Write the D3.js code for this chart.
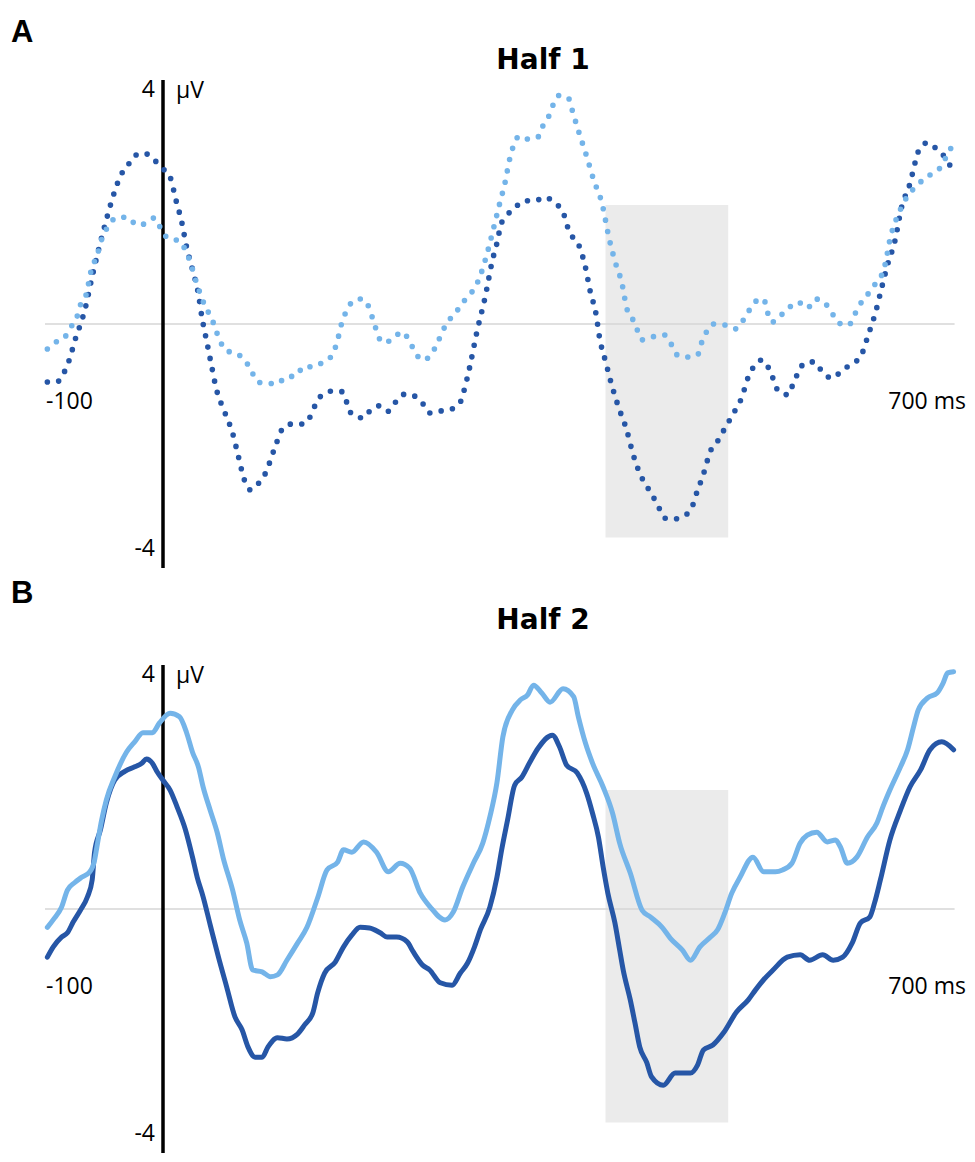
<!DOCTYPE html>
<html>
<head>
<meta charset="utf-8">
<script src="https://cdn.jsdelivr.net/npm/d3@7"></script>
<style>
  body { margin: 0; background: #fff; }
  .lbl { font-family: "Open Sans", "Noto Sans", sans-serif; font-size: 23px; fill: #000; }
  .title { font-family: "DejaVu Sans", sans-serif; font-weight: bold; font-size: 28px; fill: #000; }
  .letter { font-family: "Liberation Sans", Arial, sans-serif; font-weight: bold; font-size: 31px; fill: #000; }
</style>
</head>
<body>
<div id="chart"></div>
<script>
// ---------------- data (time in ms, amplitude in µV) ----------------
const panelLetters = ["A", "B"];
const panelTitles = ["Half 1", "Half 2"];
const xTickLabels = ["-100", "700 ms"];
const yTickLabels = ["4", "-4"];
const yUnit = "μV";
const timeDomain = [-100, 670];
const voltDomain = [-4, 4];
const windowTime = [375, 479];
const windowVolt = [1.95, -3.5];

const half1Dark = [[-98,-0.95],[-90,-0.95],[-84,-0.80],[-80,-0.62],[-74,-0.23],[-68,0.11],[-66,0.25],[-60,0.78],[-51,1.49],[-46,1.85],[-40,2.23],[-36,2.43],[-30,2.59],[-25,2.75],[-16,2.80],[-8,2.70],[-1,2.56],[6,2.41],[11,2.03],[16,1.66],[20,1.26],[25,0.89],[30,0.49],[33,0.11],[37,-0.28],[41,-0.67],[45,-1.05],[52,-1.43],[59,-1.79],[64,-2.18],[69,-2.56],[74,-2.72],[81,-2.61],[87,-2.44],[94,-2.07],[102,-1.70],[109,-1.64],[119,-1.64],[125,-1.51],[129,-1.33],[135,-1.16],[144,-1.10],[152,-1.11],[156,-1.30],[160,-1.48],[170,-1.54],[176,-1.41],[184,-1.34],[191,-1.43],[198,-1.26],[205,-1.15],[213,-1.18],[220,-1.30],[226,-1.46],[234,-1.43],[245,-1.39],[252,-1.28],[255,-1.10],[260,-0.70],[266,-0.13],[273,0.44],[279,1.03],[284,1.41],[286,1.61],[291,1.77],[298,1.90],[306,2.02],[315,2.02],[324,2.08],[332,1.98],[339,1.84],[342,1.64],[346,1.46],[352,1.31],[358,0.93],[362,0.54],[367,0.16],[370,-0.23],[375,-0.61],[380,-0.98],[386,-1.36],[393,-1.74],[398,-2.11],[405,-2.49],[410,-2.66],[415,-2.82],[420,-3.00],[425,-3.18],[432,-3.20],[441,-3.15],[448,-3.02],[451,-2.84],[458,-2.46],[464,-2.08],[470,-1.92],[475,-1.75],[485,-1.41],[490,-1.23],[496,-0.87],[501,-0.69],[508,-0.59],[514,-0.75],[522,-1.11],[530,-1.16],[534,-0.98],[544,-0.64],[552,-0.62],[559,-0.79],[567,-0.89],[575,-0.77],[583,-0.66],[591,-0.54],[598,-0.16],[604,0.20],[609,0.59],[614,0.97],[620,1.34],[626,1.92],[633,2.30],[638,2.69],[641,2.87],[648,2.97],[657,2.84],[664,2.70],[669,2.52]];

const half1Light = [[-98,-0.41],[-92,-0.31],[-83,-0.21],[-78,-0.05],[-73,0.11],[-70,0.31],[-65,0.49],[-61,0.87],[-56,1.12],[-51,1.44],[-46,1.61],[-40,1.74],[-30,1.75],[-22,1.62],[-16,1.64],[-7,1.74],[-2,1.57],[4,1.41],[14,1.36],[19,1.21],[23,1.02],[29,0.64],[36,0.28],[41,0.10],[48,-0.26],[53,-0.43],[63,-0.49],[70,-0.61],[75,-0.77],[80,-0.95],[88,-0.97],[97,-0.98],[104,-0.87],[113,-0.85],[119,-0.70],[127,-0.70],[136,-0.62],[143,-0.52],[147,-0.33],[152,0.05],[156,0.23],[162,0.39],[169,0.41],[175,0.25],[178,0.07],[186,-0.30],[195,-0.25],[202,-0.13],[209,-0.28],[213,-0.44],[220,-0.59],[227,-0.51],[232,-0.33],[241,0.03],[248,0.18],[253,0.33],[259,0.46],[265,0.62],[269,0.80],[275,1.18],[280,1.56],[285,1.95],[290,2.33],[294,2.72],[297,2.92],[302,3.08],[310,3.03],[318,3.07],[322,3.25],[327,3.41],[331,3.61],[336,3.75],[344,3.69],[347,3.49],[353,3.11],[359,2.75],[365,2.36],[372,1.98],[378,1.41],[383,1.03],[389,0.66],[393,0.26],[398,0.08],[402,-0.10],[406,-0.26],[415,-0.21],[425,-0.18],[431,-0.34],[436,-0.51],[444,-0.54],[453,-0.51],[456,-0.33],[460,-0.15],[466,0.00],[477,-0.02],[485,-0.08],[492,0.07],[497,0.23],[503,0.38],[509,0.41],[512,0.21],[516,0.03],[523,0.13],[530,0.26],[538,0.36],[546,0.26],[553,0.41],[561,0.34],[567,0.18],[572,0.02],[581,-0.02],[586,0.15],[591,0.33],[597,0.48],[603,0.64],[609,0.80],[612,0.98],[616,1.38],[622,1.75],[626,1.92],[631,2.10],[638,2.25],[645,2.38],[653,2.48],[659,2.57],[664,2.75],[669,2.93]];

const half2Dark = [[-98,-0.79],[-93,-0.62],[-86,-0.46],[-81,-0.39],[-76,-0.21],[-70,-0.02],[-64,0.20],[-60,0.48],[-58,0.93],[-53,1.30],[-48,1.74],[-41,2.11],[-32,2.26],[-24,2.33],[-18,2.39],[-14,2.46],[-9,2.39],[-5,2.25],[0,2.11],[6,1.95],[12,1.67],[19,1.30],[25,0.85],[29,0.52],[34,0.20],[40,-0.26],[47,-0.79],[54,-1.28],[61,-1.77],[67,-1.98],[72,-2.26],[78,-2.43],[84,-2.43],[89,-2.26],[97,-2.11],[105,-2.13],[114,-2.05],[120,-1.90],[127,-1.70],[131,-1.38],[137,-1.05],[146,-0.87],[153,-0.62],[160,-0.43],[167,-0.30],[175,-0.31],[184,-0.39],[190,-0.46],[198,-0.46],[207,-0.54],[212,-0.70],[220,-0.92],[226,-1.00],[235,-1.21],[245,-1.25],[252,-1.05],[258,-0.89],[264,-0.62],[269,-0.34],[277,0.03],[283,0.52],[287,0.97],[292,1.46],[298,2.03],[304,2.16],[311,2.41],[318,2.64],[330,2.85],[336,2.66],[342,2.36],[351,2.23],[359,1.90],[364,1.57],[369,1.18],[373,0.69],[377,0.26],[383,-0.23],[387,-0.67],[390,-1.00],[396,-1.49],[400,-1.87],[404,-2.26],[410,-2.52],[414,-2.75],[424,-2.89],[434,-2.69],[447,-2.69],[453,-2.56],[458,-2.31],[466,-2.23],[475,-2.03],[486,-1.69],[496,-1.49],[502,-1.33],[509,-1.16],[517,-1.00],[529,-0.79],[540,-0.75],[548,-0.84],[559,-0.75],[568,-0.84],[576,-0.79],[584,-0.56],[591,-0.23],[599,-0.13],[603,0.10],[608,0.48],[616,1.13],[625,1.62],[633,2.00],[642,2.28],[650,2.61],[660,2.74],[670,2.61]];

const half2Light = [[-98,-0.30],[-92,-0.15],[-86,0.03],[-81,0.31],[-75,0.43],[-69,0.52],[-62,0.61],[-58,0.80],[-56,1.02],[-52,1.46],[-48,1.79],[-41,2.16],[-31,2.57],[-24,2.74],[-17,2.89],[-9,2.89],[-3,3.05],[6,3.21],[14,3.15],[20,2.89],[25,2.57],[30,2.33],[34,2.00],[40,1.62],[46,1.25],[51,0.84],[59,0.31],[65,-0.18],[71,-0.56],[76,-1.00],[84,-1.03],[91,-1.11],[97,-1.08],[105,-0.84],[114,-0.56],[122,-0.30],[131,0.18],[139,0.64],[148,0.77],[153,0.97],[160,0.93],[170,1.10],[181,0.93],[191,0.61],[201,0.75],[209,0.67],[218,0.26],[227,0.02],[239,-0.18],[246,-0.05],[254,0.36],[263,0.75],[271,1.08],[277,1.51],[283,2.07],[288,2.82],[296,3.26],[303,3.43],[309,3.51],[314,3.67],[321,3.54],[328,3.39],[339,3.61],[348,3.48],[352,3.15],[358,2.72],[364,2.39],[373,2.00],[381,1.57],[387,1.08],[396,0.59],[406,-0.02],[413,-0.13],[423,-0.30],[430,-0.48],[440,-0.67],[447,-0.84],[455,-0.62],[464,-0.46],[470,-0.34],[476,-0.07],[482,0.26],[489,0.52],[500,0.85],[509,0.61],[519,0.61],[525,0.64],[533,0.75],[540,1.08],[546,1.21],[554,1.26],[563,1.10],[570,1.13],[574,1.02],[580,0.75],[588,0.85],[597,1.18],[605,1.41],[610,1.67],[616,1.95],[625,2.33],[631,2.61],[636,2.98],[640,3.26],[648,3.46],[656,3.54],[661,3.70],[665,3.87],[670,3.89]];

// ---------------- layout ----------------
const width = 975, height = 1162;
const darkColor = "#2656a6";
const lightColor = "#74b4e9";

const panels = [
  { letter: panelLetters[0], title: panelTitles[0], dark: half1Dark, light: half1Light,
    dotted: true, top: 80, bottom: 568, letterY: 42, titleY: 69 },
  { letter: panelLetters[1], title: panelTitles[1], dark: half2Dark, light: half2Light,
    dotted: false, top: 665, bottom: 1153, letterY: 603, titleY: 629 }
];

const svg = d3.select("#chart").append("svg")
  .attr("width", width)
  .attr("height", height);

const x = d3.scaleLinear().domain(timeDomain).range([45, 953.6]);

panels.forEach(p => {
  const g = svg.append("g");
  const y = d3.scaleLinear().domain(voltDomain).range([p.bottom, p.top]);

  //----------------------------------------
  // panel letter and title
  //----------------------------------------
  g.append("text").attr("class", "letter")
    .attr("x", 11).attr("y", p.letterY).text(p.letter);
  g.append("text").attr("class", "title")
    .attr("x", 543).attr("y", p.titleY)
    .attr("text-anchor", "middle").text(p.title);

  //----------------------------------------
  // shaded analysis window
  //----------------------------------------
  g.append("rect")
    .attr("x", x(windowTime[0]))
    .attr("y", y(windowVolt[0]))
    .attr("width", x(windowTime[1]) - x(windowTime[0]))
    .attr("height", y(windowVolt[1]) - y(windowVolt[0]))
    .attr("fill", "#ebebeb");

  // zero line
  g.append("line")
    .attr("x1", x(timeDomain[0])).attr("x2", x(timeDomain[1]) + 1)
    .attr("y1", y(0)).attr("y2", y(0))
    .attr("stroke", "#d6d6d6").attr("stroke-width", 1.5);

  // vertical axis at 0 ms
  g.append("line")
    .attr("x1", x(0)).attr("x2", x(0))
    .attr("y1", y(voltDomain[1])).attr("y2", y(voltDomain[0]))
    .attr("stroke", "#000").attr("stroke-width", 3.5);

  //----------------------------------------
  // waveforms
  //----------------------------------------
  const line = d3.line()
    .x(d => x(d[0]))
    .y(d => y(d[1]))
    .curve(d3.curveMonotoneX);

  [[p.dark, darkColor], [p.light, lightColor]].forEach(([data, color]) => {
    const path = g.append("path")
      .datum(data)
      .attr("d", line)
      .attr("fill", "none")
      .attr("stroke", color)
      .attr("stroke-linejoin", "round")
      .attr("stroke-linecap", "round");
    if (p.dotted) {
      path.attr("stroke-width", 5.6).attr("stroke-dasharray", "0 11.5");
    } else {
      path.attr("stroke-width", 5);
    }
  });

  //----------------------------------------
  // labels
  //----------------------------------------
  g.append("text").attr("class", "lbl")
    .attr("x", x(0) - 8).attr("y", y(voltDomain[1]) + 17)
    .attr("text-anchor", "end").text(yTickLabels[0]);
  g.append("text").attr("class", "lbl")
    .attr("x", x(0) + 13).attr("y", y(voltDomain[1]) + 18)
    .text(yUnit);
  g.append("text").attr("class", "lbl")
    .attr("x", x(0) - 8).attr("y", y(voltDomain[0]) - 12)
    .attr("text-anchor", "end").text(yTickLabels[1]);
  g.append("text").attr("class", "lbl")
    .attr("x", x(timeDomain[0]) + 1).attr("y", y(0) + 85)
    .text(xTickLabels[0]);
  g.append("text").attr("class", "lbl")
    .attr("x", width - 9).attr("y", y(0) + 85)
    .attr("text-anchor", "end").text(xTickLabels[1]);
});
</script>
</body>
</html>
